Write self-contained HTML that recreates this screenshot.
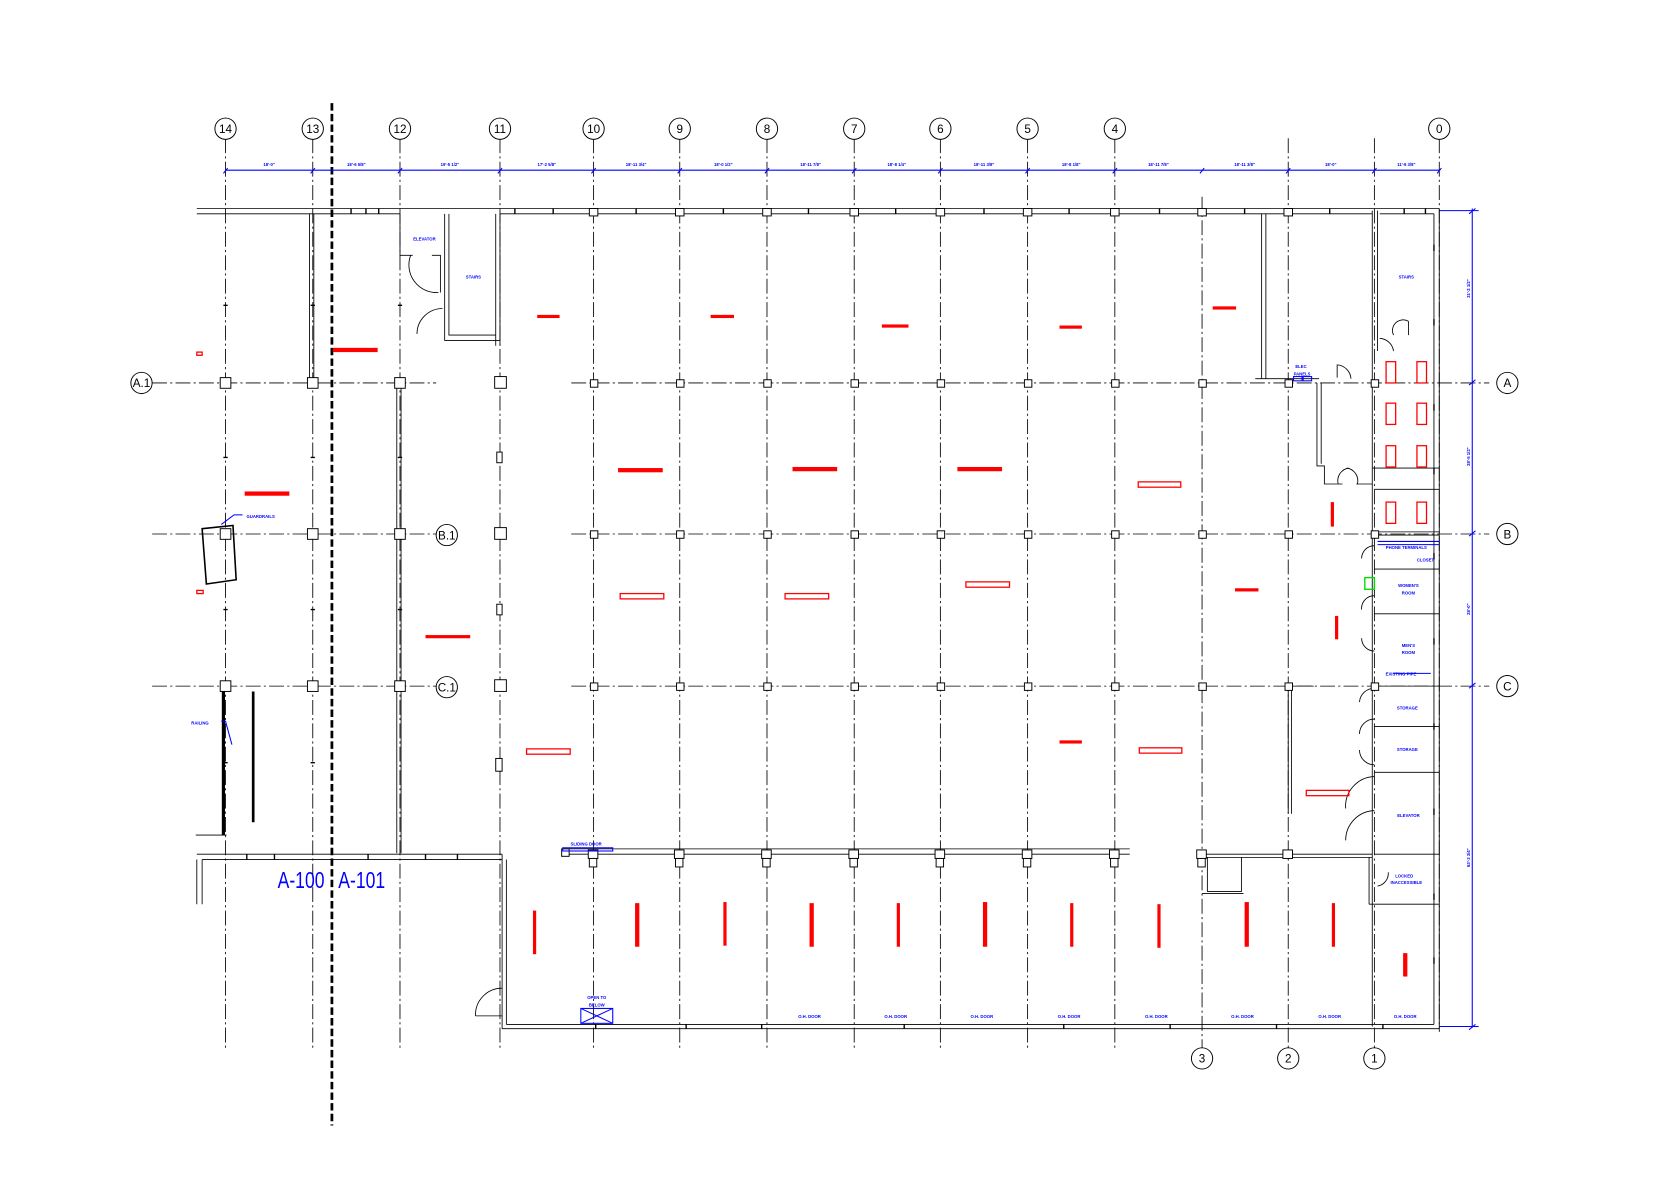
<!DOCTYPE html>
<html><head><meta charset="utf-8"><style>
html,body{margin:0;padding:0;background:#fff}
svg{display:block}
text{font-family:"Liberation Sans",sans-serif}
.g{stroke:#000;stroke-width:.8;fill:none;stroke-dasharray:14 3 2 3}
.w{stroke:#000;stroke-width:.8;fill:none}
.wt{stroke:#000;stroke-width:1.3;fill:none}
.b{stroke:#0000ff;stroke-width:1;fill:none}
.bt{fill:#0000ff;font-size:4px;font-weight:bold}
.r{fill:#ff0000}
.ro{fill:none;stroke:#ff0000;stroke-width:1.2}
.c{fill:#fff;stroke:#000;stroke-width:.9}
.ct{font-size:11px;text-anchor:middle}
.col{fill:#fff;stroke:#000;stroke-width:.9}
</style></head><body>
<svg width="1668" height="1178" viewBox="0 0 1568 1107.4" xmlns="http://www.w3.org/2000/svg">
<rect width="1568" height="1108" fill="#fff"/>
<!-- vertical grid lines -->
<g class="g">
<path d="M212 130V985M294 130V985M376 130V985M470 130V985M558 130V985M639 130V985M721 130V985M803 130V985M884 130V985M966 130V985M1048 130V985M1130 185V985M1211 130V985M1292 130V985M1353 130V970"/>
<!-- horizontal -->
<path d="M143 360H410M537 360H1400M143 502H410M537 502H1400M143 645H410M537 645H1400"/>
</g>
<!-- section break line -->
<path d="M312 97V1058" stroke="#000" stroke-width="2.6" stroke-dasharray="7 3" fill="none"/>
<!-- grid bubbles top -->
<g>
<circle class="c" cx="212" cy="121" r="10"/><circle class="c" cx="294" cy="121" r="10"/><circle class="c" cx="376" cy="121" r="10"/><circle class="c" cx="470" cy="121" r="10"/><circle class="c" cx="558" cy="121" r="10"/><circle class="c" cx="639" cy="121" r="10"/><circle class="c" cx="721" cy="121" r="10"/><circle class="c" cx="803" cy="121" r="10"/><circle class="c" cx="884" cy="121" r="10"/><circle class="c" cx="966" cy="121" r="10"/><circle class="c" cx="1048" cy="121" r="10"/><circle class="c" cx="1353" cy="121" r="10"/>
<circle class="c" cx="1130" cy="995" r="10"/><circle class="c" cx="1211" cy="995" r="10"/><circle class="c" cx="1292" cy="995" r="10"/>
<circle class="c" cx="133" cy="360" r="10"/><circle class="c" cx="420" cy="503" r="10"/><circle class="c" cx="420" cy="646" r="10"/>
<circle class="c" cx="1417" cy="360" r="10"/><circle class="c" cx="1417" cy="502" r="10"/><circle class="c" cx="1417" cy="645" r="10"/>
</g>
<g class="ct">
<text x="212" y="125">14</text><text x="294" y="125">13</text><text x="376" y="125">12</text><text x="470" y="125">11</text><text x="558" y="125">10</text><text x="639" y="125">9</text><text x="721" y="125">8</text><text x="803" y="125">7</text><text x="884" y="125">6</text><text x="966" y="125">5</text><text x="1048" y="125">4</text><text x="1353" y="125">0</text>
<text x="1130" y="999">3</text><text x="1211" y="999">2</text><text x="1292" y="999">1</text>
<text x="133" y="364">A.1</text><text x="420" y="507">B.1</text><text x="420" y="650">C.1</text>
<text x="1417" y="364">A</text><text x="1417" y="506">B</text><text x="1417" y="649">C</text>
</g>
<!-- top dimension -->
<path class="b" d="M212 160H1353"/>
<g class="b" stroke-width="1.2">
<path d="M210 163l4-5M292 163l4-5M374 163l4-5M468 163l4-5M556 163l4-5M637 163l4-5M719 163l4-5M801 163l4-5M882 163l4-5M964 163l4-5M1046 163l4-5M1128 163l4-5M1209 163l4-5M1290 163l4-5M1351 163l4-5"/>
</g>
<g class="bt" text-anchor="middle">
<text x="253" y="156">18'-0"</text><text x="335" y="156">18'-6 5/8"</text><text x="423" y="156">19'-5 1/2"</text><text x="514" y="156">17'-2 5/8"</text><text x="598" y="156">18'-11 3/4"</text><text x="680" y="156">18'-0 1/2"</text><text x="762" y="156">18'-11 7/8"</text><text x="843" y="156">18'-8 1/4"</text><text x="925" y="156">18'-11 3/8"</text><text x="1007" y="156">18'-8 1/8"</text><text x="1089" y="156">18'-11 7/8"</text><text x="1170" y="156">18'-11 3/8"</text><text x="1251" y="156">18'-0"</text><text x="1322" y="156">11'-9 3/8"</text>
</g>
<!-- right dimension -->
<path class="b" d="M1384 196V966M1353 198H1390M1353 965H1390"/>
<g class="b" stroke-width="1.2"><path d="M1381 201l6-5M1381 362l6-5M1381 504l6-5M1381 647l6-5M1381 968l6-5"/></g>
<g class="bt"><text transform="translate(1382 280) rotate(-90)">31'-2 1/2"</text><text transform="translate(1382 438) rotate(-90)">28'-5 1/2"</text><text transform="translate(1382 578) rotate(-90)">28'-0"</text><text transform="translate(1382 815) rotate(-90)">63'-3 3/4"</text></g>
<!-- exterior walls -->
<g class="w">
<path d="M185 196H1353M185 201H376M470 201H1290M1297 201H1348"/>
<path d="M1353 196V967M1348 201V963"/>
<path d="M472 967H1353M476 963H1348"/>
<path d="M472 803V967M476 808V963"/>
<path d="M185 803H472M190 808H472"/>
<path d="M185 808V850M190 808V850"/>
</g>
<!-- top wall mullions -->
<g class="wt"><path d="M330 196v5M344 196v5M356 196v5M484 196v5M520 196v5M598 196v5M680 196v5M760 196v5M842 196v5M925 196v5M1005 196v5M1090 196v5M1170 196v5M1250 196v5M1320 196v5M1340 196v5M1348 230v6M1348 300v6M1348 380v6M1348 440v6M1348 520v6M1348 600v6M1348 680v6M1348 760v6M1348 840v6M1348 900v6M232 803v5M258 803v5M346 803v5M400 803v5M430 803v5M645 963v4M716 963v4M560 963v4M850 963v4M1000 963v4M1100 963v4M1200 963v4M1300 963v4"/></g>
<!-- interior partitions top left -->
<g class="w">
<path d="M291 201V360M295 201V360"/>
<path d="M376 201V240H388M418 201V320H470M422 201V315H466M466 201V325M470 201V325"/>
<path d="M406 240H414V275M392 314A24 24 0 0 1 416 290"/>
<path d="M386 240A26 26 0 0 0 412 275"/>
<path d="M373 365V802M377 365V802"/>
<path d="M210 650V785" stroke-width="3"/>
<path d="M238 650V773" stroke-width="2.5"/>
<path d="M184 785H213"/>
<path d="M190 497L219 494L222 545L194 549Z" stroke-width="1.5"/>
</g>
<!-- A-100 region -->
<g class="w">
<path d="M447 955A25 25 0 0 1 472 929M447 955H472"/>
<path d="M530 803H1062M530 798H1062M1130 803H1290M1130 806H1290"/>
<path d="M1135 806V838H1167V806M1130 840H1169"/>
<path d="M1186 201V356M1190 201V356M1180 356H1240"/>
<path d="M1290 198V965M1295 198V330"/>
<path d="M1238 360V438H1245V455H1262M1242 360V436M1275 455H1290M1290 440H1353M1292 460H1353"/>
<path d="M1258 455A12 12 0 0 1 1268 440M1276 455A12 12 0 0 0 1266 440"/>
<path d="M1257 355V343A14 14 0 0 1 1270 356"/>
<path d="M1297 318A14 14 0 0 1 1310 330M1310 315A10 10 0 0 1 1324 302M1324 302V315"/>
<path d="M1292 500H1353M1292 503H1353M1292 535H1353M1292 577H1353M1292 645H1353M1292 683H1353M1292 726H1353M1292 803H1353M1287 850H1353M1287 806V850"/>
<path d="M1280 525A12 12 0 0 1 1292 513M1280 573A12 12 0 0 1 1292 560M1280 600A12 12 0 0 0 1292 612M1278 660A14 14 0 0 1 1292 647M1278 690A14 14 0 0 1 1292 676M1278 705A14 14 0 0 0 1292 719M1265 760A28 28 0 0 1 1292 730M1265 790A28 28 0 0 1 1292 762M1295 833A12 12 0 0 0 1305 820"/>
<path d="M1211 645V765M1214 645V765M1214 645H1235"/>
</g>
<!-- columns -->
<g class="col">
<rect x="207" y="355" width="10" height="10"/><rect x="289" y="355" width="10" height="10"/><rect x="371" y="355" width="10" height="10"/><rect x="465" y="354" width="11" height="11"/>
<rect x="207" y="497" width="10" height="10"/><rect x="289" y="497" width="10" height="10"/><rect x="371" y="497" width="10" height="10"/><rect x="465" y="496" width="11" height="11"/>
<rect x="207" y="640" width="10" height="10"/><rect x="289" y="640" width="10" height="10"/><rect x="371" y="640" width="10" height="10"/><rect x="465" y="639" width="11" height="11"/>
<rect x="467" y="425" width="5" height="10"/><rect x="467" y="568" width="5" height="10"/><rect x="466" y="713" width="6" height="12"/>
<rect x="555" y="357" width="7" height="7"/><rect x="636" y="357" width="7" height="7"/><rect x="718" y="357" width="7" height="7"/><rect x="800" y="357" width="7" height="7"/><rect x="881" y="357" width="7" height="7"/><rect x="963" y="357" width="7" height="7"/><rect x="1045" y="357" width="7" height="7"/><rect x="1127" y="357" width="7" height="7"/><rect x="1208" y="357" width="7" height="7"/><rect x="1289" y="357" width="7" height="7"/>
<rect x="555" y="499" width="7" height="7"/><rect x="636" y="499" width="7" height="7"/><rect x="718" y="499" width="7" height="7"/><rect x="800" y="499" width="7" height="7"/><rect x="881" y="499" width="7" height="7"/><rect x="963" y="499" width="7" height="7"/><rect x="1045" y="499" width="7" height="7"/><rect x="1127" y="499" width="7" height="7"/><rect x="1208" y="499" width="7" height="7"/><rect x="1289" y="499" width="7" height="7"/>
<rect x="555" y="642" width="7" height="7"/><rect x="636" y="642" width="7" height="7"/><rect x="718" y="642" width="7" height="7"/><rect x="800" y="642" width="7" height="7"/><rect x="881" y="642" width="7" height="7"/><rect x="963" y="642" width="7" height="7"/><rect x="1045" y="642" width="7" height="7"/><rect x="1127" y="642" width="7" height="7"/><rect x="1208" y="642" width="7" height="7"/><rect x="1289" y="642" width="7" height="7"/>
<rect x="554" y="196" width="8" height="7"/><rect x="635" y="196" width="8" height="7"/><rect x="717" y="196" width="8" height="7"/><rect x="799" y="196" width="8" height="7"/><rect x="880" y="196" width="8" height="7"/><rect x="962" y="196" width="8" height="7"/><rect x="1044" y="196" width="8" height="7"/><rect x="1126" y="196" width="8" height="7"/><rect x="1207" y="196" width="8" height="7"/>
<rect x="553" y="799" width="9" height="8"/><rect x="634" y="799" width="9" height="8"/><rect x="716" y="799" width="9" height="8"/><rect x="798" y="799" width="9" height="8"/><rect x="879" y="799" width="9" height="8"/><rect x="961" y="799" width="9" height="8"/><rect x="1043" y="799" width="9" height="8"/><rect x="1125" y="799" width="9" height="8"/><rect x="1206" y="799" width="9" height="8"/>
<rect x="554" y="807" width="7" height="8"/><rect x="635" y="807" width="7" height="8"/><rect x="717" y="807" width="7" height="8"/><rect x="799" y="807" width="7" height="8"/><rect x="880" y="807" width="7" height="8"/><rect x="962" y="807" width="7" height="8"/><rect x="1044" y="807" width="7" height="8"/><rect x="1126" y="807" width="7" height="8"/>
<rect x="528" y="798" width="7" height="7"/>
</g>
<g class="wt"><path d="M210 287h4M210 430h4M210 573h4M210 717h4M292 287h4M292 430h4M292 573h4M292 717h4M374 287h4M374 430h4M374 573h4"/></g>
<!-- red fixtures -->
<g class="r">
<rect x="505" y="296" width="21" height="3"/><rect x="668" y="296" width="22" height="3"/><rect x="829" y="305" width="25" height="3"/><rect x="996" y="306" width="21" height="3"/><rect x="1140" y="288" width="22" height="3"/>
<rect x="313" y="327" width="42" height="4"/><rect x="581" y="440" width="42" height="4"/><rect x="745" y="439" width="42" height="4"/><rect x="900" y="439" width="42" height="4"/>
<rect x="230" y="462" width="42" height="4"/><rect x="1161" y="553" width="22" height="3"/><rect x="400" y="597" width="42" height="3"/><rect x="996" y="696" width="21" height="3"/>
<rect x="501" y="856" width="3" height="41"/><rect x="597" y="849" width="4" height="41"/><rect x="680" y="848" width="3" height="41"/><rect x="761" y="849" width="4" height="41"/><rect x="843" y="849" width="3" height="41"/><rect x="924" y="848" width="4" height="42"/><rect x="1006" y="849" width="3" height="41"/><rect x="1088" y="850" width="3" height="41"/><rect x="1170" y="848" width="4" height="42"/><rect x="1252" y="849" width="3" height="41"/><rect x="1319" y="896" width="4" height="22"/><rect x="1251" y="472" width="3" height="23"/><rect x="1255" y="579" width="3" height="22"/>
</g>
<g class="ro">
<rect x="1070" y="453" width="40" height="5"/><rect x="583" y="558" width="41" height="5"/><rect x="738" y="558" width="41" height="5"/><rect x="908" y="547" width="41" height="5"/><rect x="495" y="704" width="41" height="5"/><rect x="1071" y="703" width="40" height="5"/><rect x="1228" y="743" width="40" height="5"/>
<rect x="185" y="331" width="5" height="3"/><rect x="185" y="555" width="6" height="3"/>
<rect x="1303" y="340" width="9" height="20"/><rect x="1332" y="340" width="9" height="20"/><rect x="1303" y="379" width="9" height="20"/><rect x="1332" y="379" width="9" height="20"/><rect x="1303" y="419" width="9" height="20"/><rect x="1332" y="419" width="9" height="20"/><rect x="1303" y="472" width="9" height="20"/><rect x="1332" y="472" width="9" height="20"/>
</g>
<rect x="1283" y="543" width="9" height="11" fill="none" stroke="#00dd00" stroke-width="1.3"/>
<!-- blue items -->
<g class="b">
<path d="M208 493L220 484H228M208 678H212L218 700"/>
<rect x="529" y="797" width="47" height="3"/>
<rect x="546" y="948" width="30" height="14"/><path d="M546 948L576 962M576 948L546 962"/>
<path d="M1295 509H1353M1295 512H1353M1310 633H1345"/>
<rect x="1216" y="354" width="8" height="4"/><rect x="1225" y="354" width="8" height="4"/>
</g>
<g class="bt" text-anchor="middle">
<text x="399" y="226">ELEVATOR</text><text x="445" y="262">STAIRS</text><text x="1322" y="262">STAIRS</text>
<text x="245" y="487">GUARDRAILS</text><text x="188" y="681">RAILING</text>
<text x="1223" y="346">ELEC</text><text x="1224" y="353">PANELS</text>
<text x="1322" y="516">PHONE TERMINALS</text><text x="1340" y="528">CLOSET</text>
<text x="1324" y="552">WOMEN'S</text><text x="1324" y="559">ROOM</text>
<text x="1324" y="608">MEN'S</text><text x="1324" y="615">ROOM</text>
<text x="1317" y="635">EXISTING PIPE</text>
<text x="1323" y="667">STORAGE</text><text x="1323" y="706">STORAGE</text><text x="1324" y="768">ELEVATOR</text>
<text x="1320" y="825">LOCKED</text><text x="1322" y="831">INACCESSIBLE</text>
<text x="551" y="795">SLIDING DOOR</text>
<text x="561" y="939">OPEN TO</text><text x="561" y="946">BELOW</text>
<text x="761" y="957">O.H. DOOR</text><text x="842" y="957">O.H. DOOR</text><text x="923" y="957">O.H. DOOR</text><text x="1005" y="957">O.H. DOOR</text><text x="1087" y="957">O.H. DOOR</text><text x="1168" y="957">O.H. DOOR</text><text x="1250" y="957">O.H. DOOR</text><text x="1321" y="957">O.H. DOOR</text>
</g>
<g fill="#0000ff" font-size="22" font-family="Liberation Sans Narrow, Liberation Sans, sans-serif">
<text x="261" y="835" textLength="44" lengthAdjust="spacingAndGlyphs">A-100</text>
<text x="318" y="835" textLength="44" lengthAdjust="spacingAndGlyphs">A-101</text>
</g>
</svg>
</body></html>
